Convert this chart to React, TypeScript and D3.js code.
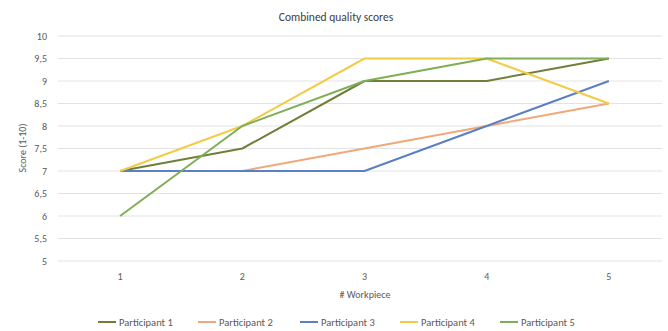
import React from "react";
import * as d3 from "d3";

const categories = ["1", "2", "3", "4", "5"];
const seriesNames = ["Participant 1", "Participant 2", "Participant 3", "Participant 4", "Participant 5"];
const participant1 = [7, 7.5, 9, 9, 9.5];
const participant2 = [7, 7, 7.5, 8, 8.5];
const participant3 = [7, 7, 7, 8, 9];
const participant4 = [7, 8, 9.5, 9.5, 8.5];
const participant5 = [6, 8, 9, 9.5, 9.5];
const yTicks = [5, 5.5, 6, 6.5, 7, 7.5, 8, 8.5, 9, 9.5, 10];
const colors = ["#6f7f3a", "#f0a878", "#5b7fc4", "#f2cc46", "#7fae55"];

export default function App() {
  const W = 668, H = 331;
  const x = d3.scaleBand().domain(categories).range([59, 670]);
  const y = d3.scaleLinear().domain([5, 10]).range([261, 36]);
  const series = [participant1, participant2, participant3, participant4, participant5];
  const line = d3
    .line<number>()
    .x((_, i) => (x(categories[i]) as number) + x.bandwidth() / 2)
    .y((d) => y(d));
  const fmt = (v: number) => String(v).replace(".", ",");
  const legendX = [98, 198, 300, 400, 500];
  const font = "Calibri, 'Liberation Sans', Arial, sans-serif";
  return (
    <svg width={W} height={H} style={{ position: "absolute", left: 0, top: 0, background: "#fff" }} fontFamily={font}>
      <text x={336} y={21} textAnchor="middle" fontSize={11.5} fill="#404040">
        Combined quality scores
      </text>
      {yTicks.map((t) => (
        <g key={t}>
          <line x1={58} x2={662} y1={y(t)} y2={y(t)} stroke="#e3e3e3" strokeWidth={1} />
          <text x={47} y={y(t) + 3.5} textAnchor="end" fontSize={10} fill="#595959">
            {fmt(t)}
          </text>
        </g>
      ))}
      {categories.map((c) => (
        <text key={c} x={(x(c) as number) + x.bandwidth() / 2} y={280} textAnchor="middle" fontSize={10} fill="#595959">
          {c}
        </text>
      ))}
      <text x={365} y={298} textAnchor="middle" fontSize={10} fill="#595959">
        # Workpiece
      </text>
      <text transform="translate(26,148) rotate(-90)" textAnchor="middle" fontSize={10} fill="#595959">
        Score (1-10)
      </text>
      {series.map((s, i) => (
        <path key={i} d={line(s) || ""} fill="none" stroke={colors[i]} strokeWidth={2} strokeLinejoin="round" />
      ))}
      {seriesNames.map((n, i) => (
        <g key={n}>
          <line x1={legendX[i]} x2={legendX[i] + 18} y1={322} y2={322} stroke={colors[i]} strokeWidth={2} />
          <text x={legendX[i] + 21} y={325.5} fontSize={10.5} fill="#595959">
            {n}
          </text>
        </g>
      ))}
    </svg>
  );
}
